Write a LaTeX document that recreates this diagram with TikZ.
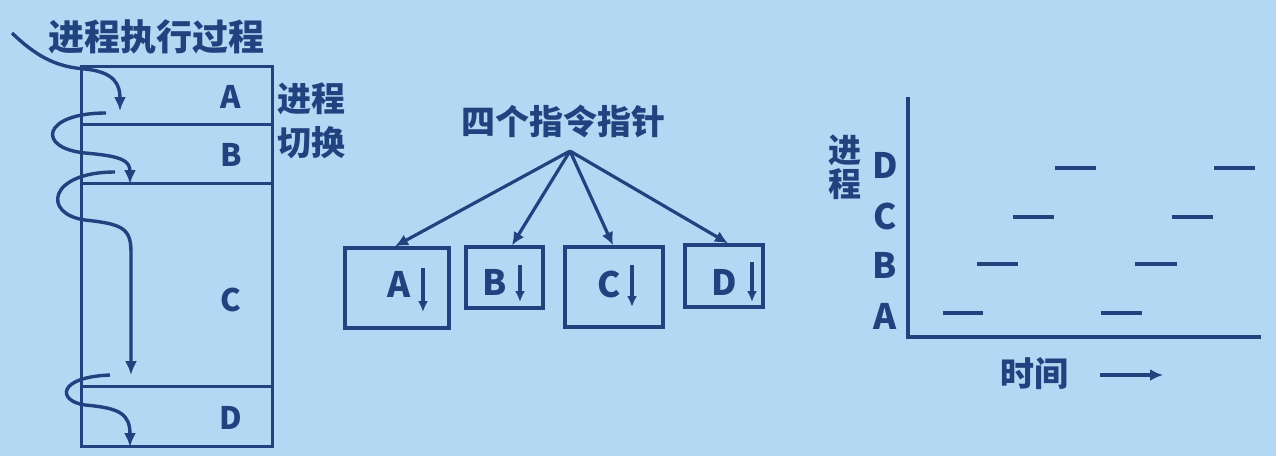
\documentclass[tikz,border=0pt]{standalone}
\usepackage{fontspec}
\setmainfont{Noto Sans CJK SC}
\usetikzlibrary{arrows.meta,calc}
\definecolor{bg}{RGB}{178,216,244}
\definecolor{ink}{RGB}{32,66,126}
\tikzset{
  ln/.style={draw=ink,line width=3.4pt},
  flow/.style={draw=ink,line width=3.4pt,-{Latex[length=14pt,width=12pt]}},
  ptr/.style={draw=ink,line width=3.2pt,-{Latex[length=13pt,width=12pt]}},
  txt/.style={text=ink,font=\fontsize{34}{36}\selectfont\bfseries,inner sep=0pt},
  lbl/.style={text=ink,font=\fontsize{31}{32}\selectfont\bfseries,inner sep=0pt},
  mlbl/.style={text=ink,font=\fontsize{35}{36}\selectfont\bfseries,inner sep=0pt},
  bx/.style={draw=ink,line width=3.4pt,inner sep=0pt},
  seg/.style={draw=ink,line width=3.8pt}
}
\begin{document}
\begin{tikzpicture}[x=1pt,y=-1pt]
\useasboundingbox (0,0) rectangle (1276,456);
\fill[bg] (0,0) rectangle (1276,456);
% ---------- left: memory column ----------
\node[bx,minimum width=191pt,minimum height=58pt,anchor=north west] (mA) at (80,65) {};
\node[bx,minimum width=191pt,minimum height=59pt,anchor=north west] (mB) at (80,123) {};
\node[bx,minimum width=191pt,minimum height=203pt,anchor=north west] (mC) at (80,182) {};
\node[bx,minimum width=191pt,minimum height=60pt,anchor=north west] (mD) at (80,385) {};
\node[lbl] (lA) at (231,97) {A};
\node[lbl] (lB) at (231,155) {B};
\node[lbl] (lC) at (231,300) {C};
\node[lbl] (lD) at (231,418) {D};
\node[txt,font=\fontsize{36}{38}\selectfont\bfseries,anchor=west] (title) at (48,37) {进程执行过程};
\node[txt,align=left,anchor=north west,font=\fontsize{34}{44}\selectfont\bfseries] (sw) at (277,82) {进程\\切换};
% flow curves
\coordinate (s1) at (12,33);  \coordinate (e1) at (120,111);
\coordinate (s2) at (106,113); \coordinate (e2) at (130,184);
\coordinate (s3) at (115,172); \coordinate (e3) at (131,375);
\coordinate (s4) at (110,375); \coordinate (e4) at (130,447);
\draw[flow] (s1) .. controls (40,60) and (60,67) .. (85,69) .. controls (115,72) and (120,85) .. (e1);
\draw[flow] (s2) .. controls (42,113) and (36,148) .. (85,153) .. controls (120,156) and (130,160) .. (e2);
\draw[flow] (s3) .. controls (48,172) and (42,214) .. (85,220) .. controls (122,224) and (131,228) .. (131,252) -- (e3);
\draw[flow] (s4) .. controls (57,377) and (57,401) .. (85,405) .. controls (120,408) and (130,414) .. (e4);
% ---------- middle: four pointers ----------
\node[txt] (ptitle) at (563,122) {四个指令指针};
\coordinate (apex) at (570,151);
\node[bx,minimum width=104pt,minimum height=80pt] (pA) at (397,288) {};
\node[bx,minimum width=77pt,minimum height=61pt] (pB) at (504.5,277.5) {};
\node[bx,minimum width=98pt,minimum height=80pt] (pC) at (614,287) {};
\node[bx,minimum width=78pt,minimum height=62pt] (pD) at (724,276) {};
\draw[ptr] (apex) -- (pA.north -| 395,0);
\draw[ptr] (apex) -- (pB.north -| 512,0);
\draw[ptr] (apex) -- (pC.north -| 613,0);
\draw[ptr] (apex) -- (pD.north -| 728,0);
\node[mlbl] (tA) at (399,284) {A};
\node[mlbl] (tB) at (495,282) {B};
\node[mlbl] (tC) at (609,284) {C};
\node[mlbl] (tD) at (724,282) {D};
\coordinate (aA1) at (423,268); \coordinate (aA2) at (423,312);
\coordinate (aB1) at (520,265); \coordinate (aB2) at (520,302);
\coordinate (aC1) at (632,265); \coordinate (aC2) at (632,307);
\coordinate (aD1) at (752,262); \coordinate (aD2) at (752,302);
\foreach \p in {A,B,C,D}{\draw[draw=ink,line width=3.2pt,-{Latex[length=11pt,width=10pt]}] (a\p1) -- (a\p2);}
% ---------- right: timeline ----------
\coordinate (o) at (908,337);
\coordinate (ytop) at (908,97);
\coordinate (xend) at (1261,337);
\draw[ln,line width=3.8pt] (ytop) -- (o) -- (xend);
\node[mlbl] (yD) at (885,165) {D};
\node[mlbl] (yC) at (885,216) {C};
\node[mlbl] (yB) at (885,265) {B};
\node[mlbl] (yA) at (885,316) {A};
\node[txt,align=center,font=\fontsize{33}{34}\selectfont\bfseries] (yt) at (845,167) {进\\程};
\draw[seg] (943,313) -- (983,313);   \draw[seg] (1101,313) -- (1142,313);
\draw[seg] (977,264) -- (1018,264);  \draw[seg] (1135,264) -- (1177,264);
\draw[seg] (1013,217) -- (1054,217); \draw[seg] (1172,217) -- (1213,217);
\draw[seg] (1055,168) -- (1096,168); \draw[seg] (1214,168) -- (1255,168);
\node[txt] (time) at (1034,374) {时间};
\coordinate (t1) at (1100,375); \coordinate (t2) at (1163,375);
\draw[draw=ink,line width=3.2pt,-{Latex[length=13pt,width=12pt]}] (t1) -- (t2);
\end{tikzpicture}
\end{document}
